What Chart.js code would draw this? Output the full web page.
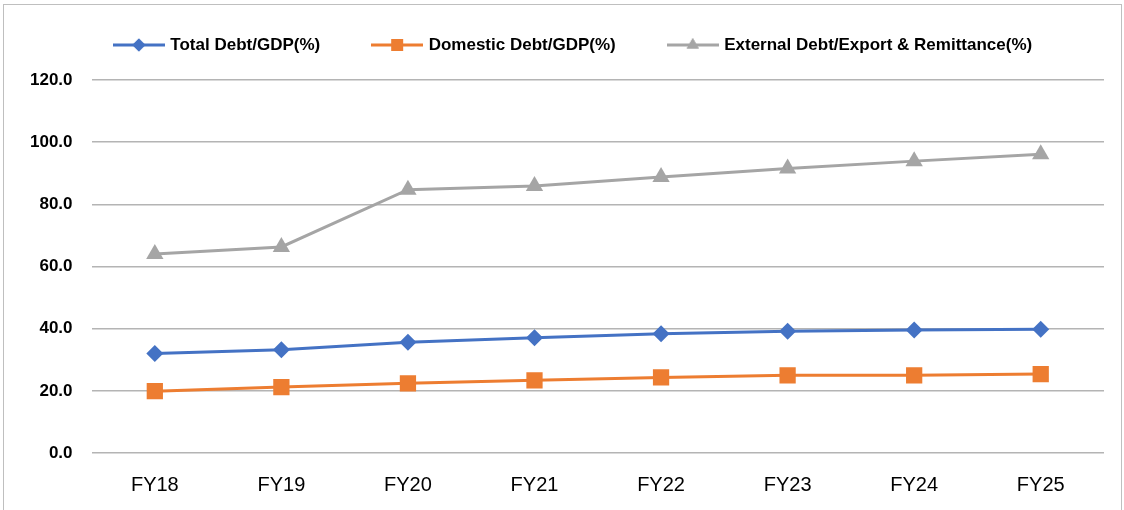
<!DOCTYPE html>
<html>
<head>
<meta charset="utf-8">
<script src="https://cdn.jsdelivr.net/npm/chart.js@4.4.1/dist/chart.umd.min.js"></script>
<style>
  html, body { margin: 0; padding: 0; background: #fff; }
  #wrap { position: relative; width: 1124px; height: 510px; overflow: hidden; }
  #frame { position: absolute; left: 3px; top: 4px; width: 1117px; height: 520px; border: 1px solid #bfbfbf; }
  #c { position: absolute; left: 0; top: 0; }
</style>
</head>
<body>
<div id="wrap">
  <div id="frame"></div>
  <canvas id="c" width="1124" height="510"></canvas>
</div>
<script>
const years = ['FY18', 'FY19', 'FY20', 'FY21', 'FY22', 'FY23', 'FY24', 'FY25'];
const totalDebtGdp = [32.0, 33.2, 35.6, 37.1, 38.4, 39.2, 39.6, 39.8];
const domesticDebtGdp = [19.9, 21.2, 22.4, 23.4, 24.3, 25.0, 25.0, 25.4];
const externalDebtExport = [64.0, 66.3, 84.7, 85.9, 88.8, 91.5, 93.9, 96.1];
const yTicks = [0, 20, 40, 60, 80, 100, 120];

const BLUE = '#4472C4', ORANGE = '#ED7D31', GRAY = '#A5A5A5';
const FONT = 'Arial, "Liberation Sans"';

// legend icon: short line with the marker in the middle
function legendIcon(color, style, radius) {
    const cv = document.createElement('canvas');
    cv.width = 52; cv.height = 18;
    const g = cv.getContext('2d');
    g.strokeStyle = color; g.lineWidth = 3;
    g.beginPath(); g.moveTo(0, 9); g.lineTo(52, 9); g.stroke();
    g.fillStyle = color;
    Chart.helpers.drawPoint(g, { pointStyle: style, radius: radius, rotation: 0, borderWidth: 0 }, 26, 9);
    g.fill();
    return cv;
}

// nudge the legend a bit right of the canvas centre, like the original
const legendShift = {
    id: 'legendShift',
    afterLayout(chart) {
        if (chart.legend) chart.legend.left += 33;
    }
};

const ctx = document.getElementById('c');
new Chart(ctx, {
    type: 'line',
    data: {
        labels: years,
        datasets: [
            { label: 'Total Debt/GDP(%)', data: totalDebtGdp, borderColor: BLUE, backgroundColor: BLUE,
              borderWidth: 3, pointStyle: 'rectRot', pointRadius: 8.5, pointBorderWidth: 0,
              legendIcon: legendIcon(BLUE, 'rectRot', 6.5) },
            { label: 'Domestic Debt/GDP(%)', data: domesticDebtGdp, borderColor: ORANGE, backgroundColor: ORANGE,
              borderWidth: 3, pointStyle: 'rect', pointRadius: 11.5, pointBorderWidth: 0,
              legendIcon: legendIcon(ORANGE, 'rect', 8.5) },
            { label: 'External Debt/Export & Remittance(%)', data: externalDebtExport, borderColor: GRAY, backgroundColor: GRAY,
              borderWidth: 3, pointStyle: 'triangle', pointRadius: 10, pointBorderWidth: 0,
              legendIcon: legendIcon(GRAY, 'triangle', 7) }
        ]
    },
    plugins: [legendShift],
    options: {
        responsive: false,
        animation: false,
        layout: { padding: { left: 11, right: 20, top: -17.5, bottom: 1 } },
        plugins: {
            tooltip: { enabled: false },
            // empty subtitle used as a spacer between legend and plot
            subtitle: { display: true, text: ' ', font: { size: 1 }, padding: { top: 0, bottom: 15.3 } },
            legend: {
                position: 'top',
                align: 'center',
                weight: 3000,
                labels: {
                    usePointStyle: true,
                    pointStyleWidth: 46,
                    padding: 54,
                    color: '#000',
                    font: { family: FONT, size: 17, weight: 'bold' },
                    generateLabels: chart => chart.data.datasets.map((ds, i) => ({
                        text: ds.label,
                        pointStyle: ds.legendIcon,
                        fillStyle: ds.borderColor,
                        strokeStyle: ds.borderColor,
                        lineWidth: 0,
                        hidden: false,
                        datasetIndex: i,
                        fontColor: '#000'
                    }))
                }
            }
        },
        scales: {
            x: {
                offset: true,
                grid: { display: false },
                border: { display: false },
                ticks: { color: '#000', padding: 12, font: { family: FONT, size: 20 } }
            },
            y: {
                min: 0, max: 120,
                afterBuildTicks: axis => { axis.ticks = yTicks.map(v => ({ value: v })); },
                grid: { color: '#b4b4b4', lineWidth: 1.4, drawTicks: false },
                border: { display: false },
                ticks: {
                    color: '#000', padding: 19,
                    font: { family: FONT, size: 17, weight: 'bold' },
                    callback: v => Number(v).toFixed(1)
                }
            }
        }
    }
});
</script>
</body>
</html>
